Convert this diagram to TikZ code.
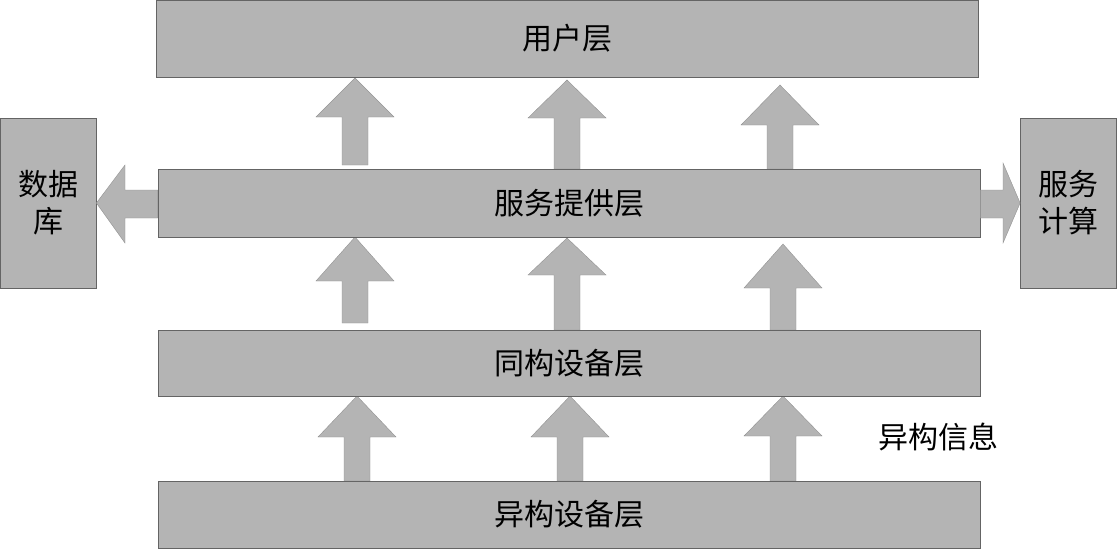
\documentclass[tikz,border=0pt]{standalone}
\usepackage{fontspec}
\newfontfamily\cjk{Noto Sans CJK SC}
\usetikzlibrary{calc}
\definecolor{boxgray}{RGB}{180,180,180}
\definecolor{edgegray}{RGB}{100,100,100}
\tikzset{
  layer/.style={draw=edgegray, line width=0.8pt, fill=boxgray, minimum width=822pt, inner sep=0pt, font=\cjk\fontsize{30}{36}\selectfont},
  sidebox/.style={draw=edgegray, line width=0.8pt, fill=boxgray, minimum width=96pt, minimum height=170pt, inner sep=0pt, align=center, font=\cjk\fontsize{30}{37}\selectfont},
  blockarrow/.style={fill=boxgray, draw=edgegray!70, line width=0.4pt},
  label/.style={font=\cjk\fontsize{30}{36}\selectfont, inner sep=0pt}
}
% cx, ybottom, yheadbase, yapex
\newcommand\blkup[4]{%
  \draw[blockarrow] (#1-13,#2) -- (#1-13,#3) -- (#1-39,#3) -- (#1,#4) -- (#1+39,#3) -- (#1+13,#3) -- (#1+13,#2) -- cycle;}
\begin{document}
\begin{tikzpicture}[x=1pt,y=-1pt]
\useasboundingbox (0,0) rectangle (1118,550);
% arrows first (behind boxes)
\blkup{355}{165}{117}{78}
\blkup{567}{169}{118}{80}
\blkup{780}{169}{125}{85}
\blkup{355}{323}{281}{237}
\blkup{567}{330}{275}{238}
\blkup{783}{330}{288}{244}
\blkup{357}{481}{437}{396}
\blkup{570}{481}{437}{396}
\blkup{783}{481}{436}{396}
% layers
\node[layer, minimum height=77pt] (user) at (567,38.5) {\raisebox{-2pt}{用户层}};
\node[layer, minimum height=68pt] (svc) at (569,203) {服务提供层};
\node[layer, minimum height=66pt] (homo) at (569,363) {同构设备层};
\node[layer, minimum height=67pt] (hetero) at (569,514.5) {异构设备层};
\node[sidebox] (db) at (48,203) {数据\\库};
\node[sidebox] (sc) at (1068.5,203) {服务\\计算};
\node[label] (info) at (938,437) {异构信息};
% side arrows
\draw[blockarrow] ($(svc.west)+(0,-13)$) -- (125,190) -- (125,165) -- (db.east) -- (125,243) -- (125,218) -- ($(svc.west)+(0,15)$) -- cycle;
\draw[blockarrow] ($(svc.east)+(0,-13)$) -- (1003,190) -- (1003,163) -- (sc.west) -- (1003,243) -- (1003,218) -- ($(svc.east)+(0,15)$) -- cycle;
\end{tikzpicture}
\end{document}
